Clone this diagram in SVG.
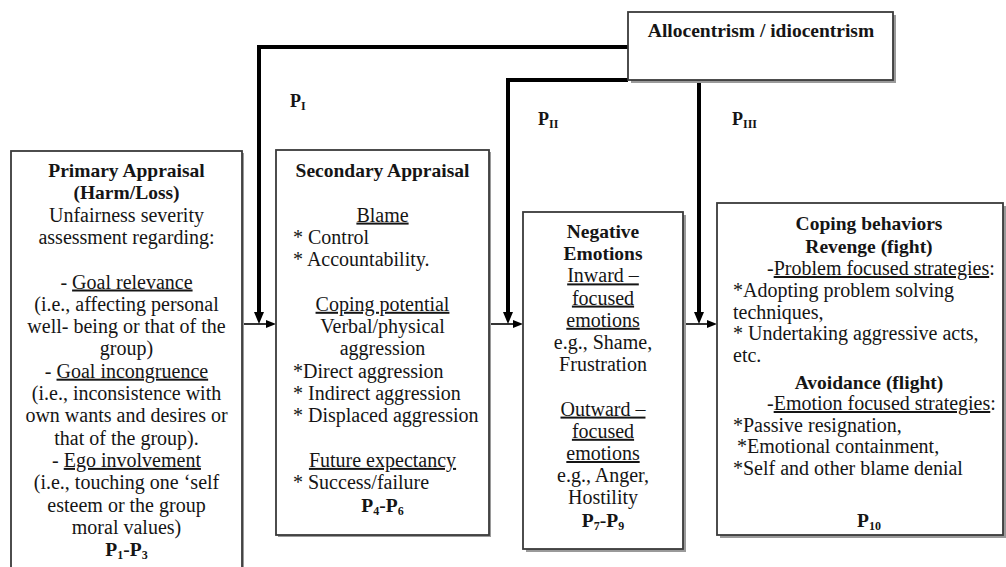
<svg xmlns="http://www.w3.org/2000/svg" width="1006" height="567" viewBox="0 0 1006 567">
<defs>
<style>
text{font-family:"Liberation Serif","Times New Roman",serif;font-size:20px;fill:#151515}
.b{font-weight:bold;font-size:19.5px}
.c{text-anchor:middle}
.u{text-decoration:underline}
.sub{font-size:12px}
.box{fill:#fff;stroke:#3a3a3a;stroke-width:1.8}
.shd{fill:#9a9a9a}
.thick{fill:none;stroke:#000;stroke-width:4}
.thin{fill:none;stroke:#000;stroke-width:1.6}
.pl{font-weight:bold;font-size:18px}
</style>
<marker id="ah" viewBox="0 0 12 10" refX="0" refY="5" markerWidth="12" markerHeight="10" markerUnits="userSpaceOnUse" orient="auto"><path d="M0,0L12,5L0,10z" fill="#000"/></marker>
<marker id="as" viewBox="0 0 10 8" refX="0" refY="4" markerWidth="10" markerHeight="8" markerUnits="userSpaceOnUse" orient="auto"><path d="M0,0L10,4L0,8z" fill="#000"/></marker>
</defs>
<rect width="1006" height="567" fill="#fff"/>

<g id="connectors">
<path class="thick" d="M628,47H259V312" marker-end="url(#ah)"/>
<path class="thick" d="M628,80H508V312" marker-end="url(#ah)"/>
<path class="thick" d="M699,80V312" marker-end="url(#ah)"/>
<path class="thin" d="M242,324H266" marker-end="url(#as)"/>
<path class="thin" d="M489,324H513" marker-end="url(#as)"/>
<path class="thin" d="M683,324H707" marker-end="url(#as)"/>
<text class="pl" x="290" y="107">P<tspan class="sub" dy="3">I</tspan></text>
<text class="pl" x="538" y="125">P<tspan class="sub" dy="3">II</tspan></text>
<text class="pl" x="732" y="125">P<tspan class="sub" dy="3">III</tspan></text>
</g>

<g id="allocentrism">
<rect class="shd" x="631" y="15" width="265" height="68"/>
<rect class="box" x="628" y="12" width="265" height="68"/>
<text class="b c" x="761" y="37">Allocentrism / idiocentrism</text>
</g>

<g id="primary">
<rect class="shd" x="13" y="153" width="231" height="430"/>
<rect class="box" x="11" y="151" width="231" height="430"/>
<text class="b c" x="126.5" y="177">Primary Appraisal</text>
<text class="b c" x="126.5" y="199.3">(Harm/Loss)</text>
<text class="c" x="126.5" y="221.6">Unfairness severity</text>
<text class="c" x="126.5" y="243.9">assessment regarding:</text>
<text class="c" x="126.5" y="288.5">- <tspan class="u">Goal relevance</tspan></text>
<text class="c" x="126.5" y="310.8">(i.e., affecting personal</text>
<text class="c" x="126.5" y="333.1">well- being or that of the</text>
<text class="c" x="126.5" y="355.4">group)</text>
<text class="c" x="126.5" y="377.7">- <tspan class="u">Goal incongruence</tspan></text>
<text class="c" x="126.5" y="400">(i.e., inconsistence with</text>
<text class="c" x="126.5" y="422.3">own wants and desires or</text>
<text class="c" x="126.5" y="444.6">that of the group).</text>
<text class="c" x="126.5" y="466.9">- <tspan class="u">Ego involvement</tspan></text>
<text class="c" x="126.5" y="489.2">(i.e., touching one ‘self</text>
<text class="c" x="126.5" y="511.5">esteem or the group</text>
<text class="c" x="126.5" y="533.8">moral values)</text>
<text class="b c" x="126.5" y="556.1">P<tspan class="sub" dy="3">1</tspan><tspan dy="-3">-</tspan>P<tspan class="sub" dy="3">3</tspan></text>
</g>

<g id="secondary">
<rect class="shd" x="278" y="152" width="213" height="385"/>
<rect class="box" x="276" y="150" width="213" height="385"/>
<text class="b c" x="382.5" y="177">Secondary Appraisal</text>
<text class="c u" x="382.5" y="221.6">Blame</text>
<text x="293" y="243.9">* Control</text>
<text x="293" y="266.2">* Accountability.</text>
<text class="c u" x="382.5" y="310.8">Coping potential</text>
<text class="c" x="382.5" y="333.1">Verbal/physical</text>
<text class="c" x="382.5" y="355.4">aggression</text>
<text x="293" y="377.7">*Direct aggression</text>
<text x="293" y="400">* Indirect aggression</text>
<text x="293" y="422.3">* Displaced aggression</text>
<text class="c u" x="382.5" y="466.9">Future expectancy</text>
<text x="293" y="489.2">* Success/failure</text>
<text class="b c" x="382.5" y="511.5">P<tspan class="sub" dy="3">4</tspan><tspan dy="-3">-</tspan>P<tspan class="sub" dy="3">6</tspan></text>
</g>

<g id="negative">
<rect class="shd" x="526" y="215" width="160" height="337"/>
<rect class="box" x="523" y="212" width="160" height="337"/>
<text class="b c" x="603" y="238">Negative</text>
<text class="b c" x="603" y="260.2">Emotions</text>
<text class="c u" x="603" y="282.4">Inward –</text>
<text class="c u" x="603" y="304.6">focused</text>
<text class="c u" x="603" y="326.8">emotions</text>
<text class="c" x="603" y="349">e.g., Shame,</text>
<text class="c" x="603" y="371.2">Frustration</text>
<text class="c u" x="603" y="415.6">Outward –</text>
<text class="c u" x="603" y="437.8">focused</text>
<text class="c u" x="603" y="460">emotions</text>
<text class="c" x="603" y="482.2">e.g., Anger,</text>
<text class="c" x="603" y="504.4">Hostility</text>
<text class="b c" x="603" y="527">P<tspan class="sub" dy="3">7</tspan><tspan dy="-3">-</tspan>P<tspan class="sub" dy="3">9</tspan></text>
</g>

<g id="coping">
<rect class="shd" x="720" y="206" width="287" height="332"/>
<rect class="box" x="717" y="203" width="286" height="332"/>
<text class="b c" x="869" y="230">Coping behaviors</text>
<text class="b c" x="869" y="252.5">Revenge (fight)</text>
<text x="767" y="275">-<tspan class="u">Problem focused strategies</tspan>:</text>
<text x="733" y="297">*Adopting problem solving</text>
<text x="733" y="318.5">techniques,</text>
<text x="733" y="340">* Undertaking aggressive acts,</text>
<text x="733" y="362">etc.</text>
<text class="b c" x="869" y="389">Avoidance (flight)</text>
<text x="767" y="410">-<tspan class="u">Emotion focused strategies</tspan>:</text>
<text x="733" y="432">*Passive resignation,</text>
<text x="737" y="453">*Emotional containment,</text>
<text x="733" y="475">*Self and other blame denial</text>
<text class="b c" x="869" y="527">P<tspan class="sub" dy="3">10</tspan></text>
</g>
</svg>
